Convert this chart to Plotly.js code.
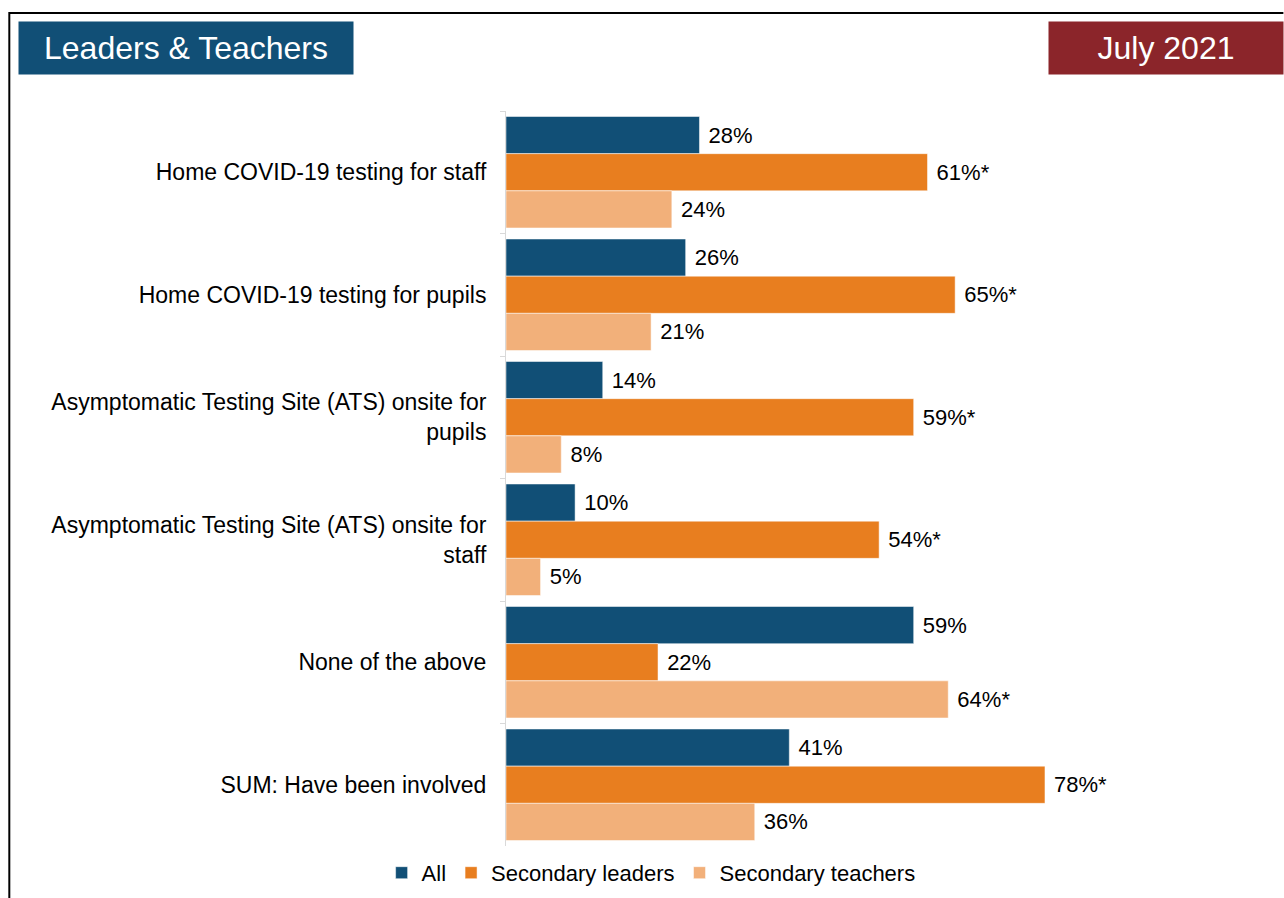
<!DOCTYPE html>
<html>
<head>
<meta charset="utf-8">
<script src="https://cdn.plot.ly/plotly-3.0.1.min.js"></script>
<style>
  body { margin: 0; background: #fff; }
  #plot { width: 1284px; height: 898px; }
</style>
</head>
<body>
<div id="plot"></div>
<script>
var categories = [
  "Home COVID-19 testing for staff",
  "Home COVID-19 testing for pupils",
  "Asymptomatic Testing Site (ATS) onsite for<br>pupils",
  "Asymptomatic Testing Site (ATS) onsite for<br>staff",
  "None of the above",
  "SUM: Have been involved"
];
var allValues = [28, 26, 14, 10, 59, 41];
var leaderValues = [61, 65, 59, 54, 22, 78];
var teacherValues = [24, 21, 8, 5, 64, 36];
var allLabels = ["28%", "26%", "14%", "10%", "59%", "41%"];
var leaderLabels = ["61%*", "65%*", "59%*", "54%*", "22%", "78%*"];
var teacherLabels = ["24%", "21%", "8%", "5%", "64%*", "36%"];

var font = "Liberation Sans, Arial, sans-serif";

function makeTrace(name, values, labels, color) {
  return {
    type: "bar",
    orientation: "h",
    name: name,
    y: categories,
    x: values,
    text: labels.map(function (t) { return " " + t; }),
    textposition: "outside",
    cliponaxis: false,
    textfont: { family: font, size: 22, color: "#000" },
    marker: { color: color, line: { color: "#fff", width: 0.5 } },
    hoverinfo: "x+y"
  };
}

var data = [
  makeTrace("All", allValues, allLabels, "#114f76"),
  makeTrace("Secondary leaders", leaderValues, leaderLabels, "#e87e1f"),
  makeTrace("Secondary teachers", teacherValues, teacherLabels, "#f2b07a")
];

var layout = {
  width: 1284,
  height: 898,
  paper_bgcolor: "#fff",
  plot_bgcolor: "#fff",
  font: { family: font, size: 22, color: "#000" },
  margin: { l: 506, r: 87, t: 111, b: 52, autoexpand: false },
  barmode: "group",
  bargap: 0.09,
  bargroupgap: 0,
  showlegend: true,
  legend: {
    orientation: "h",
    x: 0.21,
    xanchor: "center",
    y: -0.008,
    yanchor: "top",
    font: { family: font, size: 22, color: "#000" },
    itemwidth: 30,
    traceorder: "normal"
  },
  xaxis: {
    range: [0, 100],
    showgrid: false,
    zeroline: false,
    showticklabels: false,
    showline: false,
    ticks: ""
  },
  yaxis: {
    autorange: "reversed",
    showgrid: false,
    zeroline: false,
    showline: true,
    linecolor: "#d9d9d9",
    linewidth: 1,
    ticks: "outside",
    tickson: "boundaries",
    ticklen: 5,
    tickcolor: "#d9d9d9",
    ticklabelstandoff: 14,
    tickfont: { family: font, size: 23, color: "#000" }
  },
  shapes: [
    { type: "line", xref: "paper", yref: "paper",
      x0: -0.7188, x1: 1.125, y0: 1.1333, y1: 1.1333,
      line: { color: "#000", width: 2 } },
    { type: "line", xref: "paper", yref: "paper",
      x0: -0.7188, x1: -0.7188, y0: 1.1347, y1: -0.08,
      line: { color: "#000", width: 2 } }
  ],
  annotations: [
    { xref: "paper", yref: "paper", x: -0.706, y: 1.1224,
      xanchor: "left", yanchor: "top", showarrow: false,
      text: "Leaders & Teachers", bgcolor: "#114f76",
      font: { family: font, size: 32, color: "#fff" },
      width: 326, height: 44, borderpad: 4, align: "center" },
    { xref: "paper", yref: "paper", x: 1.126, y: 1.1224,
      xanchor: "right", yanchor: "top", showarrow: false,
      text: "July 2021", bgcolor: "#8b252a",
      font: { family: font, size: 32, color: "#fff" },
      width: 226, height: 44, borderpad: 4, align: "center" }
  ]
};

Plotly.newPlot("plot", data, layout, { displayModeBar: false });
</script>
</body>
</html>
